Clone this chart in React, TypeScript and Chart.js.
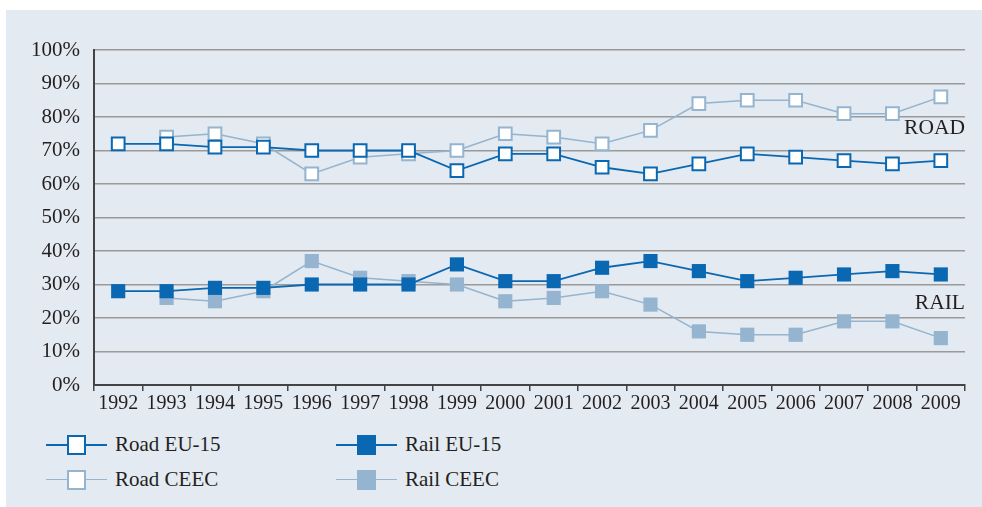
import React, { useEffect, useRef } from "react";
import { Chart, registerables } from "chart.js";

Chart.register(...registerables);

const years = ["1992","1993","1994","1995","1996","1997","1998","1999","2000","2001","2002","2003","2004","2005","2006","2007","2008","2009"];
const roadEU15 = [72,72,71,71,70,70,70,64,69,69,65,63,66,69,68,67,66,67];
const roadCEEC = [null,74,75,72,63,68,69,70,75,74,72,76,84,85,85,81,81,86];
const railEU15 = [28,28,29,29,30,30,30,36,31,31,35,37,34,31,32,33,34,33];
const railCEEC = [null,26,25,28,37,32,31,30,25,26,28,24,16,15,15,19,19,14];
const yTicks = [0,10,20,30,40,50,60,70,80,90,100];
const groupLabels = [
  { text: "ROAD", value: 76.7 },
  { text: "RAIL", value: 24.5 },
];

const DARK = "#0a67b2";
const LIGHT = "#94b4cf";
const BG = "#e3eaf1";
const TEXT = "#231f20";
const FONT = "'Liberation Serif', 'Times New Roman', serif";

const groupLabelPlugin = {
  id: "groupLabels",
  afterDatasetsDraw(chart: any) {
    const { ctx, chartArea, scales } = chart;
    ctx.save();
    ctx.font = `21.5px ${FONT}`;
    ctx.fillStyle = TEXT;
    ctx.textAlign = "right";
    ctx.textBaseline = "middle";
    groupLabels.forEach((g) => {
      ctx.fillText(g.text, chartArea.right, scales.y.getPixelForValue(g.value));
    });
    ctx.restore();
  },
};

const legendItems = [
  { label: "Road EU-15", color: DARK, filled: false, col: 0, row: 0 },
  { label: "Rail EU-15", color: DARK, filled: true, col: 1, row: 0 },
  { label: "Road CEEC", color: LIGHT, filled: false, col: 0, row: 1 },
  { label: "Rail CEEC", color: LIGHT, filled: true, col: 1, row: 1 },
];

export default function App() {
  const ref = useRef<HTMLCanvasElement>(null);

  useEffect(() => {
    document.body.style.margin = "0";
    const canvas = ref.current!;
    const chart = new Chart(canvas, {
      type: "line",
      data: {
        labels: years,
        datasets: [
          {
            label: "Road EU-15",
            data: roadEU15,
            borderColor: DARK,
            borderWidth: 1.8,
            pointStyle: "rect",
            pointRadius: 9,
            pointBorderWidth: 2,
            pointBackgroundColor: "#ffffff",
            pointBorderColor: DARK,
            order: 1,
          },
          {
            label: "Road CEEC",
            data: roadCEEC,
            borderColor: LIGHT,
            borderWidth: 1.5,
            pointStyle: "rect",
            pointRadius: 9,
            pointBorderWidth: 2,
            pointBackgroundColor: "#ffffff",
            pointBorderColor: LIGHT,
            order: 3,
          },
          {
            label: "Rail EU-15",
            data: railEU15,
            borderColor: DARK,
            borderWidth: 1.8,
            pointStyle: "rect",
            pointRadius: 10,
            pointBorderWidth: 0,
            pointBackgroundColor: DARK,
            pointBorderColor: DARK,
            order: 2,
          },
          {
            label: "Rail CEEC",
            data: railCEEC,
            borderColor: LIGHT,
            borderWidth: 1.5,
            pointStyle: "rect",
            pointRadius: 10,
            pointBorderWidth: 0,
            pointBackgroundColor: LIGHT,
            pointBorderColor: LIGHT,
            order: 4,
          },
        ] as any,
      },
      options: {
        animation: false,
        responsive: false,
        maintainAspectRatio: false,
        events: [],
        layout: { padding: { top: 50, right: 17, left: 0, bottom: 0 } },
        plugins: { legend: { display: false }, tooltip: { enabled: false } },
        scales: {
          x: {
            type: "category",
            offset: true,
            grid: {
              offset: true,
              drawOnChartArea: false,
              drawTicks: true,
              tickLength: 6,
              color: "#444",
              lineWidth: 1.5,
            },
            border: { display: true, color: "#444", width: 2 },
            ticks: {
              color: TEXT,
              font: { family: FONT, size: 20 },
              padding: 1,
              maxRotation: 0,
              autoSkip: false,
            },
            afterFit(scale: any) {
              scale.height = 35;
            },
          },
          y: {
            min: 0,
            max: 100,
            afterBuildTicks(scale: any) {
              scale.ticks = yTicks.map((v) => ({ value: v }));
            },
            grid: {
              drawTicks: false,
              tickLength: 0,
              color: "#9a9a9a",
              lineWidth: 1.5,
            },
            border: { display: true, color: "#444", width: 2 },
            ticks: {
              color: TEXT,
              font: { family: FONT, size: 21 },
              padding: 14,
              callback: (v: any) => `${v}%`,
            },
            afterFit(scale: any) {
              scale.width = 94;
            },
          },
        },
      } as any,
      plugins: [groupLabelPlugin],
    });
    return () => chart.destroy();
  }, []);

  return (
    <div style={{ position: "relative", width: 982, height: 507, background: "#ffffff", overflow: "hidden" }}>
      <div style={{ position: "absolute", left: 6, top: 10, width: 976, height: 497, background: BG }} />
      <canvas
        ref={ref}
        width={982}
        height={420}
        style={{ position: "absolute", left: 0, top: 0, width: 982, height: 420 }}
      />
      {legendItems.map((it) => {
        const lineLeft = it.col === 0 ? 46 : 336;
        const cy = it.row === 0 ? 445 : 480;
        return (
          <div key={it.label}>
            <div
              style={{
                position: "absolute",
                left: lineLeft,
                top: cy - 1,
                width: 61,
                height: 0,
                borderTop: `${it.color === DARK ? 2 : 1.5}px solid ${it.color}`,
              }}
            />
            <div
              style={{
                position: "absolute",
                left: lineLeft + 21,
                top: cy - 10,
                width: 19,
                height: 20,
                boxSizing: "border-box",
                background: it.filled ? it.color : "#ffffff",
                border: it.filled ? "none" : `2px solid ${it.color}`,
              }}
            />
            <div
              style={{
                position: "absolute",
                left: lineLeft + 69,
                top: cy - 13,
                fontFamily: FONT,
                fontSize: 21,
                lineHeight: "24px",
                color: TEXT,
                whiteSpace: "nowrap",
              }}
            >
              {it.label}
            </div>
          </div>
        );
      })}
    </div>
  );
}
